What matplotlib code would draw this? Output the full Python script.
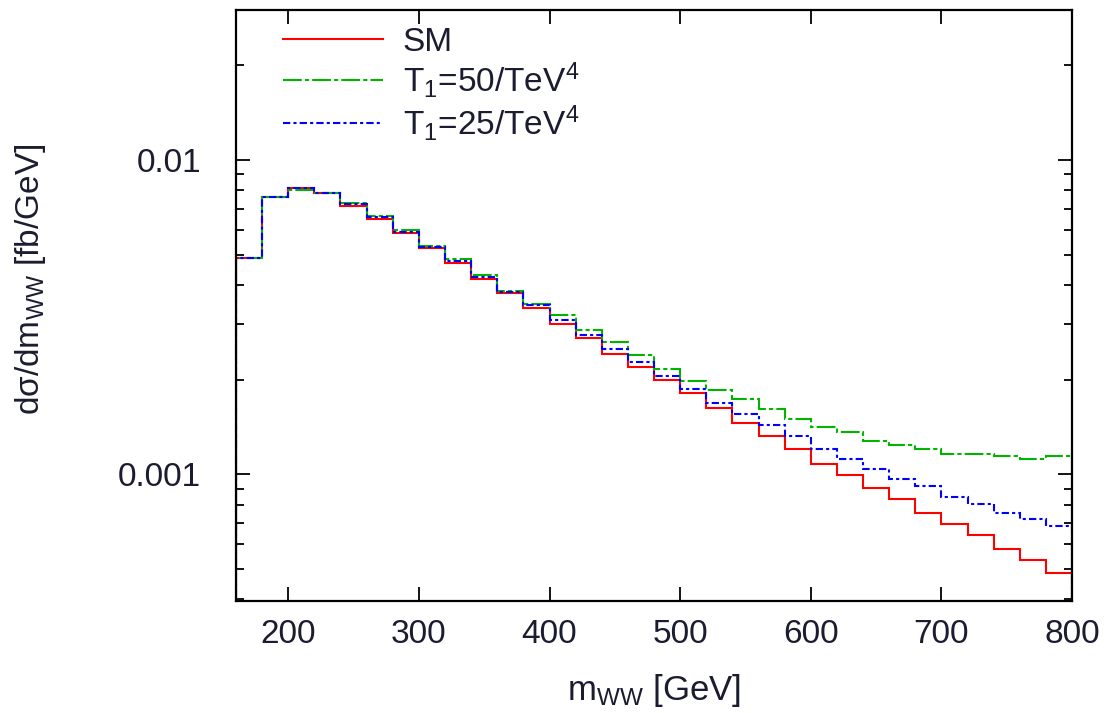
import numpy as np
import matplotlib
matplotlib.use("Agg")
import matplotlib.pyplot as plt

# bin edges of the m_WW histogram [GeV]
edges = np.arange(160, 820, 20)

sm = [0.00486, 0.00764, 0.00812, 0.00783, 0.00715, 0.00647, 0.00587, 0.00523,
      0.00469, 0.00417, 0.00376, 0.00337, 0.00301, 0.00272, 0.00242, 0.00220,
      0.00199, 0.00181, 0.00162, 0.00146, 0.00132, 0.00120, 0.00108, 0.000997,
      0.000906, 0.000837, 0.000755, 0.000693, 0.000640, 0.000580, 0.000532, 0.000485]

t1_50 = [0.00486, 0.00764, 0.00805, 0.00785, 0.00731, 0.00662, 0.00599, 0.00533,
         0.00484, 0.00431, 0.00383, 0.00348, 0.00321, 0.00288, 0.00264, 0.00239,
         0.00216, 0.00198, 0.00186, 0.00174, 0.00161, 0.00150, 0.00141, 0.00136,
         0.00128, 0.00124, 0.00120, 0.00116, 0.00116, 0.00114, 0.00112, 0.00114]

t1_25 = [0.00486, 0.00764, 0.00812, 0.00783, 0.00724, 0.00657, 0.00591, 0.00530,
         0.00478, 0.00425, 0.00381, 0.00345, 0.00309, 0.00277, 0.00250, 0.00227,
         0.00206, 0.00187, 0.00169, 0.00155, 0.00143, 0.00132, 0.00120, 0.00112,
         0.00104, 0.000964, 0.000918, 0.000847, 0.000807, 0.000755, 0.000719, 0.000685]

plt.rcParams["font.family"] = ["Liberation Sans", "DejaVu Sans"]
plt.rcParams["mathtext.default"] = "regular"
TXT = "#1c1c30"

fig = plt.figure(figsize=(11.1, 7.13), dpi=100)
ax = fig.add_axes([0.2126, 0.157, 0.7532, 0.829])

ax.stairs(sm, edges, color="#ff0000", linewidth=1.5, label="SM")
ax.stairs(t1_50, edges, color="#00b400", linewidth=1.5,
          linestyle=(0, (9, 1.5, 2, 1.5)), label=r"T$_1$=50/TeV$^4$")
ax.stairs(t1_25, edges, color="#0000ff", linewidth=1.5,
          linestyle=(0, (3.5, 1.5, 1.5, 1.5)), label=r"T$_1$=25/TeV$^4$")

ax.set_yscale("log")
ax.set_xlim(160, 800)
ax.set_ylim(0.000395, 0.030)
ax.set_xticks([200, 300, 400, 500, 600, 700, 800])
ax.set_yticks([0.001, 0.01])
ax.set_yticklabels(["0.001", "0.01"])
ax.tick_params(axis="both", which="both", direction="in", top=True, right=True,
               labelsize=24, labelcolor=TXT, width=1.3)
ax.tick_params(axis="both", which="major", length=10)
ax.tick_params(axis="y", which="minor", length=6)
ax.tick_params(axis="y", which="major", pad=25)
ax.tick_params(axis="x", which="major", pad=13)
for sp in ax.spines.values():
    sp.set_linewidth(1.6)

ax.set_xlabel(r"m$_{WW}$ [GeV]", fontsize=25, color=TXT)
ax.set_ylabel(r"d$\sigma$/dm$_{WW}$ [fb/GeV]", fontsize=24, color=TXT)
ax.xaxis.set_label_coords(0.5, -0.12)
ax.yaxis.set_label_coords(-0.225, 0.545)

leg = ax.legend(loc="upper left", frameon=False, fontsize=24, handlelength=3.0,
                handletextpad=0.6, labelspacing=0.08, borderaxespad=0.0,
                bbox_to_anchor=(0.04, 0.994))
for t in leg.get_texts():
    t.set_color(TXT)

plt.savefig("out.png", dpi=100)
